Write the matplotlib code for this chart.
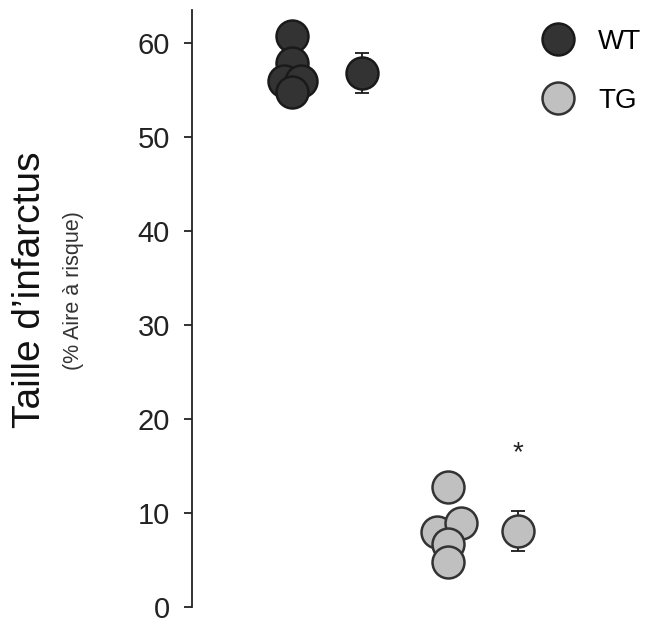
import matplotlib
matplotlib.use("Agg")
import matplotlib.pyplot as plt
from matplotlib.lines import Line2D

plt.rcParams['font.family'] = ['Liberation Sans', 'DejaVu Sans']

# Data
groups = ["WT", "TG"]
wt_values = [60.7, 57.9, 55.9, 55.9, 54.8]
wt_x = [1.0, 1.0, 0.92, 1.09, 1.0]
tg_values = [12.8, 8.0, 8.9, 6.7, 4.8]
tg_x = [2.57, 2.46, 2.70, 2.57, 2.57]
means = [56.8, 8.1]
errors = [2.1, 2.1]
mean_x = [1.70, 3.27]
fills = ["#333333", "#c0c0c0"]
edges = ["#1a1a1a", "#333333"]
yticks = [0, 10, 20, 30, 40, 50, 60]

fig = plt.figure(figsize=(6.51, 6.24), dpi=100)
ax = fig.add_axes([192/651, 17/624, 459/651, 597/624])
ax.set_xlim(0, 4.6)
ax.set_ylim(0, 63.5)

ms = 23
for vals, xs, f, e in [(wt_values, wt_x, fills[0], edges[0]), (tg_values, tg_x, fills[1], edges[1])]:
    ax.plot(xs, vals, 'o', ms=ms, mfc=f, mec=e, mew=1.8, ls='none', clip_on=False, zorder=3)

for i in range(2):
    ax.errorbar(mean_x[i], means[i], yerr=errors[i], fmt='none', ecolor='#1a1a1a',
                elinewidth=1.3, capsize=5, capthick=1.3, zorder=2)
    ax.plot(mean_x[i], means[i], 'o', ms=ms, mfc=fills[i], mec=edges[i], mew=1.8,
            clip_on=False, zorder=3)

ax.text(mean_x[1], 16.4, '*', ha='center', va='center', fontsize=20, color='#222222')

for s in ['top', 'right', 'bottom']:
    ax.spines[s].set_visible(False)
ax.spines['left'].set_linewidth(1.3)
ax.spines['left'].set_color('#222222')
ax.spines['left'].set_bounds(0, 63.5)
ax.set_xticks([])
ax.set_yticks(yticks)
ax.set_yticklabels([str(t) for t in yticks])
ax.tick_params(axis='y', length=6, width=1.3, color='#222222', labelsize=21, pad=10,
               labelcolor='#222222')

handles = [Line2D([], [], marker='o', ls='none', ms=ms, mfc=fills[i], mec=edges[i], mew=1.8)
           for i in range(2)]
leg = ax.legend(handles, groups, loc='upper left', bbox_to_anchor=(0.755, 0.968), frameon=False,
                fontsize=20, handlelength=1.4, handletextpad=0.74, labelspacing=1.17,
                borderpad=0, borderaxespad=0)

fig.text(30/651, 0.535, "Taille d\u2019infarctus", rotation=90, ha='center', va='center',
         fontsize=28, color='#111111')
fig.text(73/651, 0.535, "(% Aire à risque)", rotation=90, ha='center', va='center',
         fontsize=15.5, color='#333333')

fig.savefig("out.png", dpi=100)
